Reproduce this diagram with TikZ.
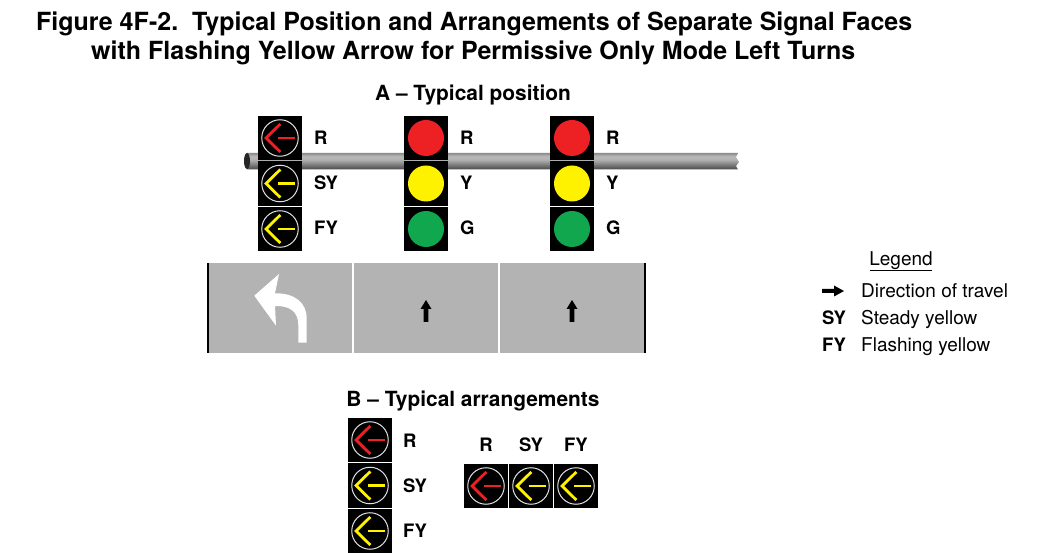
\documentclass[tikz,border=0pt]{standalone}
\usepackage{fontspec}
\setmainfont{TeX Gyre Heros}
\definecolor{lampred}{HTML}{ED2024}
\definecolor{lampyellow}{HTML}{FFF200}
\definecolor{lampgreen}{HTML}{11A74F}
\definecolor{roadgray}{HTML}{B3B3B3}
\pgfdeclareverticalshading{polebar}{100bp}{color(0bp)=(black!72); color(25bp)=(black!72); color(55bp)=(black!30); color(65bp)=(black!28); color(75bp)=(black!45); color(100bp)=(black!45)}
\begin{document}
\begin{tikzpicture}[x=1pt,y=-1pt,
  head/.style={rectangle, fill=black, draw=none, minimum size=44.6pt, inner sep=0pt},
  lamp/.style={circle, draw=none, minimum size=36pt, inner sep=0pt},
  ring/.style={circle, fill=none, draw=black!12, line width=1pt, minimum size=36.5pt, inner sep=0pt},
  faceline/.style={line width=2.8pt},
  sig/.style={anchor=base west, inner sep=0pt, font=\fontsize{18.5}{20}\selectfont\bfseries},
  sigc/.style={anchor=base, inner sep=0pt, font=\fontsize{18.5}{20}\selectfont\bfseries},
  titleline/.style={anchor=base west, inner sep=0pt, font=\fontsize{25}{27}\selectfont\bfseries},
  heading/.style={anchor=base, inner sep=0pt, font=\fontsize{20.9}{23}\selectfont\bfseries},
  legendtext/.style={anchor=base west, inner sep=0pt, font=\fontsize{19}{21}\selectfont},
  divider/.style={line width=2pt, white},
  curb/.style={line width=2pt, black},
  travel/.style={fill=black, draw=none},
  leftface/.pic={
    \node [head] (box) at (0,0) {};
    \node [ring] (circ) at (0,0) {};
    \draw [faceline] (0.3,-14) -- (-14,0) -- (0.3,14);
    \draw [faceline] (-2,0) -- (15,0);
  },
  upmark/.pic={
    \fill [travel] (0,-11) -- (5.5,-2) -- (2.3,-2) -- (2.3,11) -- (-2.3,11) -- (-2.3,-2) -- (-5.5,-2) -- cycle;
  }]
\useasboundingbox (0,0) rectangle (1037,553);

\node [titleline] (title1) at (36,30.5) {Figure 4F-2.\ \ Typical Position and Arrangements of Separate Signal Faces};
\node [titleline] (title2) at (91,60) {with Flashing Yellow Arrow for Permissive Only Mode Left Turns};
\node [heading] (heada) at (473,101) {A -- Typical position};
\node [heading] (headb) at (473,407) {B -- Typical arrangements};

\shade [shading=polebar] (247,153) -- (738,153) -- (736,157) -- (739,162) -- (736,166) -- (738,169.5) -- (247,169.5) -- cycle;
\fill [black!85] (247,161) ellipse (3pt and 8pt);

\pic [lampred] (pa1) at (280,138) {leftface};
\pic [lampyellow] (pa2) at (280,183.5) {leftface};
\pic [lampyellow] (pa3) at (280,229) {leftface};
\node [head] (pb1) at (426,138) {};
\node [head] (pb2) at (426,183.5) {};
\node [head] (pb3) at (426,229) {};
\node [lamp, fill=lampred] (lb1) at (426,138) {};
\node [lamp, fill=lampyellow] (lb2) at (426,183.5) {};
\node [lamp, fill=lampgreen] (lb3) at (426,229) {};
\node [head] (pc1) at (572,138) {};
\node [head] (pc2) at (572,183.5) {};
\node [head] (pc3) at (572,229) {};
\node [lamp, fill=lampred] (lc1) at (572,138) {};
\node [lamp, fill=lampyellow] (lc2) at (572,183.5) {};
\node [lamp, fill=lampgreen] (lc3) at (572,229) {};

\node [sig] (ta1) at (314,145) {R};
\node [sig] (ta2) at (314,190) {SY};
\node [sig] (ta3) at (314,235) {FY};
\node [sig] (tb1) at (460,145) {R};
\node [sig] (tb2) at (460,190) {Y};
\node [sig] (tb3) at (460,235) {G};
\node [sig] (tc1) at (606,145) {R};
\node [sig] (tc2) at (606,190) {Y};
\node [sig] (tc3) at (606,235) {G};

\fill [roadgray] (207,263) rectangle (645,353);
\draw [curb] (207.5,263) -- (207.5,353);
\draw [curb] (645,263) -- (645,353);
\draw [divider] (353,263) -- (353,353);
\draw [divider] (499,263) -- (499,353);
\fill [white] (254.3,295.7) -- (279,274) -- (275,293.3) .. controls (295,293) and (306.7,303) .. (306.7,318.3) -- (306.7,342.7) -- (298.3,342.7) -- (298.3,325) .. controls (298.3,312) and (290,305.5) .. (275,306) -- (276,325.7) -- cycle;
\pic (upb) at (426,311) {upmark};
\pic (upc) at (572,311) {upmark};

\pic [lampred] (qa1) at (370,440) {leftface};
\pic [lampyellow] (qa2) at (370,485.5) {leftface};
\pic [lampyellow] (qa3) at (370,531) {leftface};
\node [sig] (tq1) at (403,447) {R};
\node [sig] (tq2) at (403,492) {SY};
\node [sig] (tq3) at (403,537.5) {FY};

\pic [lampred] (qb1) at (486,486) {leftface};
\pic [lampyellow] (qb2) at (531,486) {leftface};
\pic [lampyellow] (qb3) at (576,486) {leftface};
\node [sigc] (tr1) at (486,451) {R};
\node [sigc] (tr2) at (531,451) {SY};
\node [sigc] (tr3) at (576,451) {FY};

\node [legendtext, anchor=base] (legendhead) at (901,266) {Legend};
\draw [line width=1pt] (870,271) -- (932,271);
\fill [travel] (844,291) -- (834,285.5) -- (834,289) -- (822,289) -- (822,293) -- (834,293) -- (834,296.5) -- cycle;
\node [legendtext] (legend1) at (861,298) {Direction of travel};
\node [sig] (legendsy) at (822,325) {SY};
\node [legendtext] (legend2) at (861,325) {Steady yellow};
\node [sig] (legendfy) at (822,352) {FY};
\node [legendtext] (legend3) at (861,352) {Flashing yellow};
\end{tikzpicture}
\end{document}
